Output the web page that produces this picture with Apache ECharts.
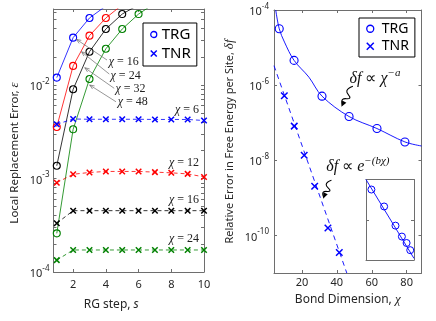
<!DOCTYPE html>
<html><head><meta charset="utf-8">
<script src="https://cdn.jsdelivr.net/npm/echarts@6/dist/echarts.min.js"></script>
<style>html,body{margin:0;padding:0;background:#fff}#c{width:436px;height:321px}</style>
</head><body><div id="c"></div>
<script>
// ---------- Left panel: local replacement error vs RG step ----------
const rgSteps = [1, 2, 3, 4, 5, 6, 7, 8, 9, 10];
// TRG (open circles, solid lines); last value of each continues above the top edge
const trgChi16 = [0.0120, 0.0321, 0.0521, 0.070];
const trgChi24 = [0.00356, 0.0160, 0.0337, 0.0521, 0.072];
const trgChi32 = [0.00137, 0.0090, 0.0227, 0.0397, 0.0574, 0.072];
const trgChi48 = [0.000259, 0.00336, 0.0116, 0.0244, 0.0397, 0.0574, 0.075];
// TNR (crosses, dashed lines)
const tnrChi6  = [0.00380, 0.00433, 0.00430, 0.00430, 0.00430, 0.00430, 0.00428, 0.00428, 0.00428, 0.00417];
const tnrChi12 = [0.000902, 0.00111, 0.00116, 0.00119, 0.00119, 0.00119, 0.00117, 0.00115, 0.00112, 0.00104];
const tnrChi16 = [0.000332, 0.000453, 0.000453, 0.000453, 0.000453, 0.000453, 0.000453, 0.000453, 0.000453, 0.000453];
const tnrChi24 = [0.000134, 0.000172, 0.000172, 0.000172, 0.000172, 0.000172, 0.000172, 0.000172, 0.000172, 0.000172];
const leftXTicks = [2, 4, 6, 8, 10];
const leftYTicks = [1e-4, 1e-3, 1e-2];
const leftYMinorTicks = [1e-4,2e-4,3e-4,4e-4,5e-4,6e-4,7e-4,8e-4,9e-4,1e-3,2e-3,3e-3,4e-3,5e-3,6e-3,7e-3,8e-3,9e-3,1e-2,2e-2,3e-2,4e-2,5e-2,6e-2];

// ---------- Right panel: relative error in free energy vs bond dimension ----------
const trgBondDim = [7, 15.5, 31.5, 47, 63, 79];
const trgErr     = [3.17e-5, 4.56e-6, 5.09e-7, 1.46e-7, 7.0e-8, 3.08e-8];
const tnrBondDim = [9.9, 15.6, 21.3, 27.3, 34.9, 41.4];
const tnrErr     = [5.2e-7, 8.1e-8, 1.36e-8, 2.03e-9, 1.57e-10, 3.5e-11];
// fit curves
const trgFitChi = [5, 7, 10, 15.5, 24, 31.5, 47, 63, 79, 88.5];
const trgFitErr = [1e-4, 3.17e-5, 1.4e-5, 4.56e-6, 1.63e-6, 5.09e-7, 1.46e-7, 7.0e-8, 3.08e-8, 2.4e-8];
const tnrFitChi = [4, 45.7];
const tnrFitErr = [3.3e-6, 1e-11];
const insetFitChi = [5, 100];
const insetFitErr = [1e-4, 1.2e-8];
const rightXTicks = [20, 40, 60, 80];
const rightYTicks = [1e-10, 1e-8, 1e-6, 1e-4];
const insetYTicks = [1e-6];

const zip = (xs, ys) => ys.map((y, i) => [xs[i], y]);

const AX = '#6e6e6e';
const TXT = '#262626';
const SANS = 'Noto Sans';
const SERIF = 'Liberation Serif';
const CROSS = 'path://M0,0L10,10M10,0L0,10';

function expLabel(v) {
  const e = Math.round(Math.log10(v));
  return '{b|10}{s|' + e + '}';
}
const expRich = {
  b: { fontSize: 11, fontFamily: SANS, color: TXT, lineHeight: 15, verticalAlign: 'bottom' },
  s: { fontSize: 8, fontFamily: SANS, color: TXT, lineHeight: 9, verticalAlign: 'top' }
};

function axisBase(o) {
  const base = {
    axisLine: { show: true, onZero: false, lineStyle: { color: AX, width: 1 } },
    splitLine: { show: false },
    nameTextStyle: { fontFamily: SANS, fontSize: 12, color: TXT }
  };
  return Object.assign(base, o);
}

function trg(name, ys, color) {
  return {
    type: 'line', name, xAxisIndex: 0, yAxisIndex: 0, data: zip(rgSteps, ys),
    symbol: 'circle', symbolSize: 7, showSymbol: true,
    itemStyle: { color: 'rgba(0,0,0,0)', borderColor: color, borderWidth: 1.1 },
    lineStyle: { color, width: 0.8 }, emphasis: { disabled: true }, clip: true, z: 3
  };
}
function tnr(name, ys, color) {
  return {
    type: 'line', name, xAxisIndex: 0, yAxisIndex: 0, data: zip(rgSteps, ys),
    symbol: CROSS, symbolSize: 5.5, showSymbol: true,
    itemStyle: { color, borderColor: color, borderWidth: 1.5 },
    lineStyle: { color, width: 0.8, type: [4, 3] }, emphasis: { disabled: true }, clip: true, z: 3
  };
}

const option = {
  animation: false,
  backgroundColor: '#fff',
  grid: [
    { left: 53.5, top: 9, width: 150.5, height: 263, containLabel: false, outerBoundsMode: 'none' },
    { left: 274, top: 10, width: 147.5, height: 263, containLabel: false, outerBoundsMode: 'none' },
    { left: 366, top: 179.5, width: 48, height: 80.5, containLabel: false, outerBoundsMode: 'none' }
  ],
  xAxis: [
    axisBase({ gridIndex: 0, type: 'value', min: 0.8, max: 10, position: 'bottom',
      name: 'RG step, {i|s}', nameLocation: 'middle', nameGap: 27,
      nameTextStyle: { fontFamily: SANS, fontSize: 12, color: TXT, padding: [0, 35, 0, 0],
        rich: { i: { fontFamily: SANS, fontSize: 12, fontStyle: 'italic', color: TXT } } },
      axisTick: { show: true, inside: true, length: 3, customValues: leftXTicks, lineStyle: { color: AX } },
      axisLabel: { show: true, customValues: leftXTicks, margin: 7, fontFamily: SANS, fontSize: 11, color: TXT } }),
    axisBase({ gridIndex: 0, type: 'value', min: 0.8, max: 10, position: 'top',
      axisTick: { show: true, inside: true, length: 3, customValues: leftXTicks, lineStyle: { color: AX } },
      axisLabel: { show: false } }),
    axisBase({ gridIndex: 1, type: 'value', min: 4, max: 88.5, position: 'bottom',
      name: 'Bond Dimension, {i|χ}', nameLocation: 'middle', nameGap: 16,
      nameTextStyle: { fontFamily: SANS, fontSize: 12, color: TXT,
        rich: { i: { fontFamily: SERIF, fontSize: 13, fontStyle: 'italic', color: TXT } } },
      axisTick: { show: true, inside: true, length: 3, customValues: rightXTicks, lineStyle: { color: AX } },
      axisLabel: { show: true, customValues: rightXTicks, margin: 4, fontFamily: SANS, fontSize: 11, color: TXT } }),
    axisBase({ gridIndex: 1, type: 'value', min: 4, max: 88.5, position: 'top',
      axisTick: { show: true, inside: true, length: 3, customValues: rightXTicks, lineStyle: { color: AX } },
      axisLabel: { show: false } }),
    axisBase({ gridIndex: 2, type: 'log', logBase: 10, min: 5, max: 100, position: 'bottom',
      axisTick: { show: false }, axisLabel: { show: false } }),
    axisBase({ gridIndex: 2, type: 'log', logBase: 10, min: 5, max: 100, position: 'top',
      axisTick: { show: false }, axisLabel: { show: false } })
  ],
  yAxis: [
    axisBase({ gridIndex: 0, type: 'log', logBase: 10, min: 1e-4, max: 0.065, position: 'left',
      name: 'Local Replacement Error, {i|ε}', nameLocation: 'middle', nameGap: 32, nameRotate: 90,
      nameTextStyle: { fontFamily: SANS, fontSize: 11.5, color: TXT, padding: [0, 25, 0, 0],
        rich: { i: { fontFamily: SERIF, fontSize: 13, fontStyle: 'italic', color: TXT } } },
      axisTick: { show: true, inside: true, length: 3, customValues: leftYMinorTicks, lineStyle: { color: AX } },
      axisLabel: { show: true, customValues: leftYTicks, margin: 4, formatter: expLabel, rich: expRich } }),
    axisBase({ gridIndex: 0, type: 'log', logBase: 10, min: 1e-4, max: 0.065, position: 'right',
      axisTick: { show: true, inside: true, length: 3, customValues: leftYMinorTicks, lineStyle: { color: AX } },
      axisLabel: { show: false } }),
    axisBase({ gridIndex: 1, type: 'log', logBase: 10, min: 1e-11, max: 1e-4, position: 'left',
      name: 'Relative Error in Free Energy per Site, {i|δf}', nameLocation: 'middle', nameGap: 38, nameRotate: 90,
      nameTextStyle: { fontFamily: SANS, fontSize: 11, color: TXT,
        rich: { i: { fontFamily: SERIF, fontSize: 13, fontStyle: 'italic', color: TXT } } },
      axisTick: { show: true, inside: true, length: 3, customValues: rightYTicks, lineStyle: { color: AX } },
      axisLabel: { show: true, customValues: rightYTicks, margin: 5, formatter: expLabel, rich: expRich } }),
    axisBase({ gridIndex: 1, type: 'log', logBase: 10, min: 1e-11, max: 1e-4, position: 'right',
      axisTick: { show: true, inside: true, length: 3, customValues: rightYTicks, lineStyle: { color: AX } },
      axisLabel: { show: false } }),
    axisBase({ gridIndex: 2, type: 'log', logBase: 10, min: 1e-8, max: 1e-4, position: 'left',
      axisTick: { show: true, inside: true, length: 3, customValues: insetYTicks, lineStyle: { color: AX } },
      axisLabel: { show: false } }),
    axisBase({ gridIndex: 2, type: 'log', logBase: 10, min: 1e-8, max: 1e-4, position: 'right',
      axisTick: { show: true, inside: true, length: 3, customValues: insetYTicks, lineStyle: { color: AX } },
      axisLabel: { show: false } })
  ],
  legend: [
    { show: true, selectedMode: false, orient: 'vertical', left: 143, top: 23,
      padding: [3, 6, 4, 7], itemGap: 2, itemWidth: 6, itemHeight: 6,
      backgroundColor: '#fff', borderColor: '#000', borderWidth: 1, borderRadius: 0,
      textStyle: { fontFamily: SANS, fontSize: 15, color: '#000', lineHeight: 17, padding: [0, 0, 0, 0] },
      data: [
        { name: 'TRG', icon: 'circle', itemStyle: { color: 'rgba(0,0,0,0)', borderColor: '#0000ff', borderWidth: 1.3 } },
        { name: 'TNR', icon: CROSS, itemStyle: { color: '#0000ff', borderColor: '#0000ff', borderWidth: 1.5 } }
      ] },
    { show: true, selectedMode: false, orient: 'vertical', left: 359, top: 18,
      padding: [3, 6, 3, 7], itemGap: 2, itemWidth: 7, itemHeight: 7,
      backgroundColor: '#fff', borderColor: '#000', borderWidth: 1, borderRadius: 0,
      textStyle: { fontFamily: SANS, fontSize: 14, color: '#000', lineHeight: 15.5, padding: [0, 0, 0, 3] },
      data: [
        { name: 'TRG', icon: 'circle', itemStyle: { color: 'rgba(0,0,0,0)', borderColor: '#0000ff', borderWidth: 1.3 } },
        { name: 'TNR', icon: CROSS, itemStyle: { color: '#0000ff', borderColor: '#0000ff', borderWidth: 1.5 } }
      ] }
  ],
  series: [
    trg('TRG', trgChi16, '#0000ff'),
    trg('TRG χ=24', trgChi24, '#ff0000'),
    trg('TRG χ=32', trgChi32, '#000000'),
    trg('TRG χ=48', trgChi48, '#008000'),
    tnr('TNR', tnrChi6, '#0000ff'),
    tnr('TNR χ=12', tnrChi12, '#ff0000'),
    tnr('TNR χ=16', tnrChi16, '#000000'),
    tnr('TNR χ=24', tnrChi24, '#008000'),
    // right panel
    { type: 'line', name: 'TRG fit', xAxisIndex: 2, yAxisIndex: 2, data: zip(trgFitChi, trgFitErr),
      showSymbol: false, smooth: 0.35, lineStyle: { color: '#0000ff', width: 0.9 }, emphasis: { disabled: true }, z: 2 },
    { type: 'line', name: 'TNR fit', xAxisIndex: 2, yAxisIndex: 2, data: zip(tnrFitChi, tnrFitErr),
      showSymbol: false, lineStyle: { color: '#0000ff', width: 0.9, type: [5, 4] }, emphasis: { disabled: true }, z: 2 },
    { type: 'line', name: 'TRG', xAxisIndex: 2, yAxisIndex: 2, data: zip(trgBondDim, trgErr),
      symbol: 'circle', symbolSize: 8, lineStyle: { width: 0 },
      itemStyle: { color: 'rgba(0,0,0,0)', borderColor: '#0000ff', borderWidth: 1.1 }, emphasis: { disabled: true }, z: 3 },
    { type: 'line', name: 'TNR', xAxisIndex: 2, yAxisIndex: 2, data: zip(tnrBondDim, tnrErr),
      symbol: CROSS, symbolSize: 6.5, lineStyle: { width: 0 },
      itemStyle: { color: '#0000ff', borderColor: '#0000ff', borderWidth: 1.5 }, emphasis: { disabled: true }, z: 3 },
    // inset (log-log)
    { type: 'line', name: 'inset fit', xAxisIndex: 4, yAxisIndex: 4, data: zip(insetFitChi, insetFitErr),
      showSymbol: false, lineStyle: { color: '#0000ff', width: 0.9 }, emphasis: { disabled: true }, z: 6 },
    { type: 'line', name: 'inset TRG', xAxisIndex: 4, yAxisIndex: 4, data: zip(trgBondDim, trgErr),
      symbol: 'circle', symbolSize: 7, lineStyle: { width: 0 },
      itemStyle: { color: 'rgba(0,0,0,0)', borderColor: '#0000ff', borderWidth: 1 }, emphasis: { disabled: true }, z: 6 }
  ]
};

const chart = echarts.init(document.getElementById('c'), null, { renderer: 'canvas' });
chart.setOption(option);

// ---------- annotations (anchored in data coordinates) ----------
const L = p => chart.convertToPixel({ xAxisIndex: 0, yAxisIndex: 0 }, p);
const R = p => chart.convertToPixel({ xAxisIndex: 2, yAxisIndex: 2 }, p);
const g = [];
const chiRich = {
  i: { fontFamily: SERIF, fontStyle: 'italic', fontSize: 12, fill: '#222' },
  n: { fontFamily: SERIF, fontSize: 12, fill: '#222' }
};
function chiText(p, txt, align) {
  g.push({ type: 'text', x: p[0], y: p[1], silent: true, z: 10,
    style: { text: '{i|χ}{n| = ' + txt + '}', rich: chiRich, align: align, verticalAlign: 'middle' } });
}
function arrow(p0, p1) {
  g.push({ type: 'line', silent: true, z: 10, shape: { x1: p0[0], y1: p0[1], x2: p1[0], y2: p1[1] },
    style: { stroke: '#6a6a6a', lineWidth: 0.7 } });
  const a = Math.atan2(p1[1] - p0[1], p1[0] - p0[0]), h = 5, w = 0.38;
  g.push({ type: 'polyline', silent: true, z: 10, shape: { points: [
    [p1[0] - h * Math.cos(a - w), p1[1] - h * Math.sin(a - w)], [p1[0], p1[1]],
    [p1[0] - h * Math.cos(a + w), p1[1] - h * Math.sin(a + w)]] },
    style: { stroke: '#6a6a6a', fill: null, lineWidth: 0.7 } });
}
function squiggle(p0, p1) {
  const dx = p1[0] - p0[0], dy = p1[1] - p0[1], len = Math.hypot(dx, dy);
  const ux = dx / len, uy = dy / len, nx = -uy, ny = ux;
  const pt = (t, o) => [p0[0] + dx * t + nx * o, p0[1] + dy * t + ny * o];
  g.push({ type: 'polyline', silent: true, z: 10, shape: { smooth: 0.5, points: [
    pt(0, 0), pt(0.3, 3), pt(0.5, -3), pt(0.7, 2.5), pt(0.92, 0)] },
    style: { stroke: '#000', fill: null, lineWidth: 1.1 } });
  const h = 6, w = 2.4, bx = p1[0] - ux * h, by = p1[1] - uy * h;
  g.push({ type: 'polygon', silent: true, z: 10, shape: { points: [
    [p1[0], p1[1]], [bx + nx * w, by + ny * w], [bx - nx * w, by - ny * w]] },
    style: { fill: '#000' } });
}

// TRG labels with arrows (left panel)
arrow(L([4.07, 0.0185]), L([2.20, 0.0308])); chiText(L([4.17, 0.0177]), '16', 'left');
arrow(L([4.21, 0.0131]), L([2.51, 0.0227])); chiText(L([4.29, 0.01248]), '24', 'left');
arrow(L([4.51, 0.00922]), L([2.71, 0.0153])); chiText(L([4.59, 0.0090]), '32', 'left');
arrow(L([4.62, 0.00662]), L([3.01, 0.0100])); chiText(L([4.72, 0.00658]), '48', 'left');
// TNR labels (left panel)
chiText(L([9.70, 0.00541]), '6', 'right');
chiText(L([9.70, 0.001476]), '12', 'right');
chiText(L([9.70, 0.000589]), '16', 'right');
chiText(L([9.70, 0.000224]), '24', 'right');

// Right panel formulas
const fRich = {
  i: { fontFamily: SERIF, fontStyle: 'italic', fontSize: 16, fill: '#111', verticalAlign: 'bottom', lineHeight: 20 },
  n: { fontFamily: SERIF, fontSize: 16, fill: '#111', verticalAlign: 'bottom', lineHeight: 20 },
  s: { fontFamily: SERIF, fontStyle: 'italic', fontSize: 11, fill: '#111', verticalAlign: 'top', lineHeight: 11 }
};
g.push({ type: 'text', silent: true, z: 10, x: R([47.3, 1.63e-6])[0], y: R([47.3, 1.63e-6])[1],
  style: { text: '{i|δf}{n| ∝ }{i|χ}{s|−a}', rich: fRich, align: 'left', verticalAlign: 'middle' } });
g.push({ type: 'text', silent: true, z: 10, x: R([34.0, 7.36e-9])[0], y: R([34.0, 7.36e-9])[1],
  style: { text: '{i|δf}{n| ∝ }{i|e}{s|−(bχ)}', rich: fRich, align: 'left', verticalAlign: 'middle' } });
squiggle(R([49.2, 9.4e-7]), R([42.6, 2.64e-7]));
squiggle(R([36.9, 2.93e-9]), R([32.1, 9.5e-10]));

chart.setOption({ graphic: g });
</script></body></html>
